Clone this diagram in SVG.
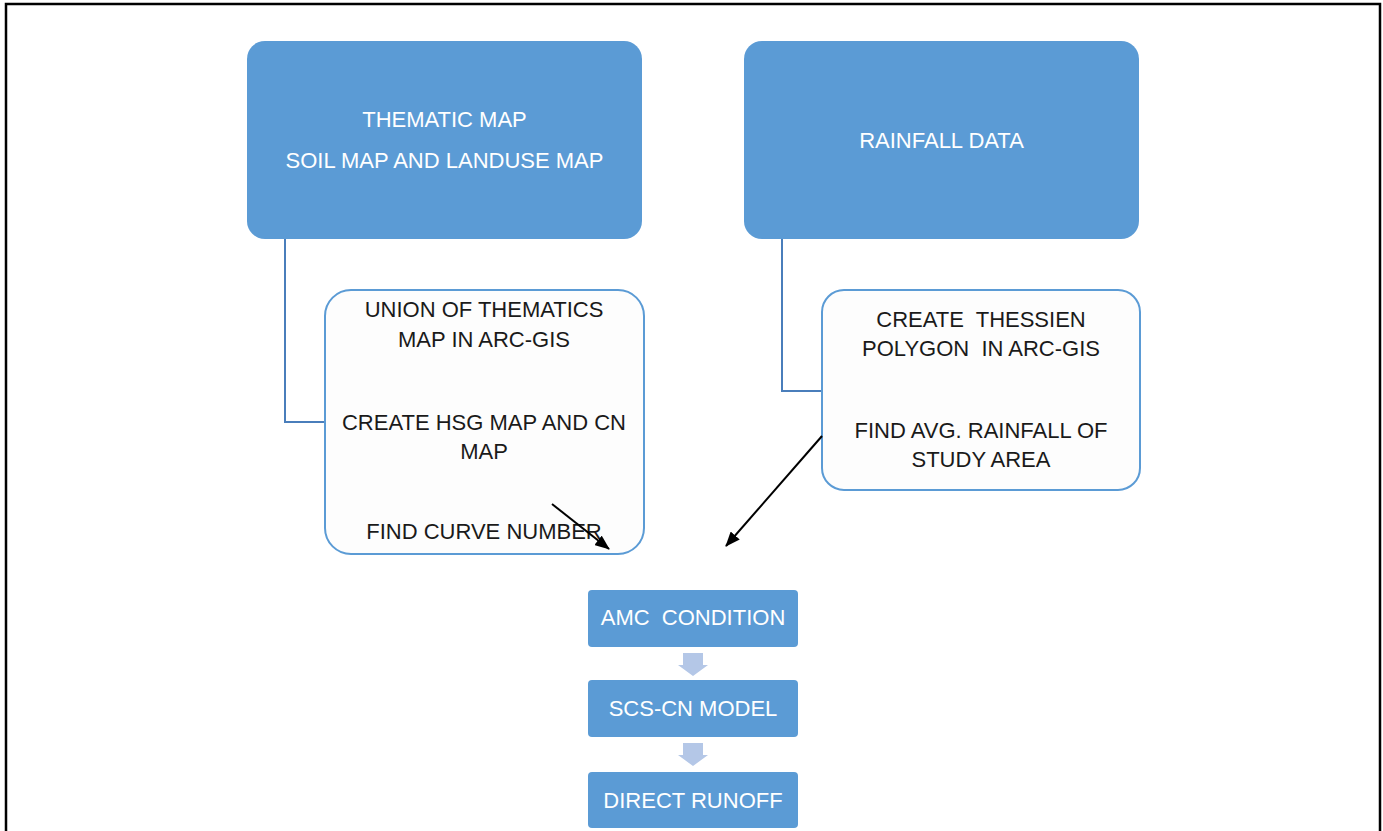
<svg xmlns="http://www.w3.org/2000/svg" width="1383" height="831" viewBox="0 0 1383 831">
<style>
.t{font-family:"Liberation Sans",Arial,sans-serif;font-size:22px;text-anchor:middle;white-space:pre}
.w{fill:#ffffff}
.d{fill:#1a1a1a}
.top{fill:#5b9bd5}
.sub{fill:#fdfdfd;stroke:#5b9bd5;stroke-width:2}
.conn{fill:none;stroke:#4a7ebb;stroke-width:2}
.arr{stroke:#000;stroke-width:2;fill:none}
.blk{fill:#b4c7e7}
</style>
<defs>
<marker id="ah" markerWidth="15" markerHeight="12" refX="14" refY="6" orient="auto" markerUnits="userSpaceOnUse" viewBox="0 0 15 12">
<path d="M0,0 L15,6 L0,12 z" fill="#000"/>
</marker>
</defs>
<rect x="6" y="4" width="1374" height="840" fill="none" stroke="#000" stroke-width="2.5"/>
<g id="thematic">
<rect class="top" x="247" y="41" width="395" height="198" rx="18"/>
<text class="t w" x="444.5" y="127">THEMATIC MAP</text>
<text class="t w" x="444.5" y="168">SOIL MAP AND LANDUSE MAP</text>
</g>
<g id="rainfall">
<rect class="top" x="744" y="41" width="395" height="198" rx="18"/>
<text class="t w" x="941.5" y="148">RAINFALL DATA</text>
</g>
<g id="union">
<rect class="sub" x="325" y="290" width="319" height="264" rx="26"/>
<text class="t d" x="484" y="317">UNION OF THEMATICS</text>
<text class="t d" x="484" y="347">MAP IN ARC-GIS</text>
<text class="t d" x="484" y="430">CREATE HSG MAP AND CN</text>
<text class="t d" x="484" y="459">MAP</text>
<text class="t d" x="484" y="539">FIND CURVE NUMBER</text>
</g>
<g id="thessien">
<rect class="sub" x="822" y="290" width="318" height="200" rx="22"/>
<text class="t d" x="981" y="327">CREATE  THESSIEN</text>
<text class="t d" x="981" y="356">POLYGON  IN ARC-GIS</text>
<text class="t d" x="981" y="438">FIND AVG. RAINFALL OF</text>
<text class="t d" x="981" y="467">STUDY AREA</text>
</g>
<g id="amc">
<rect class="top" x="588" y="590" width="210" height="57" rx="4"/>
<text class="t w" x="693" y="625">AMC  CONDITION</text>
</g>
<g id="scs">
<rect class="top" x="588" y="680" width="210" height="57" rx="4"/>
<text class="t w" x="693" y="716">SCS-CN MODEL</text>
</g>
<g id="runoff">
<rect class="top" x="588" y="772" width="210" height="56" rx="4"/>
<text class="t w" x="693" y="808">DIRECT RUNOFF</text>
</g>
<g id="connectors">
<path class="conn" d="M285,239 V422 H324"/>
<path class="conn" d="M782,239 V391 H821"/>
<line class="arr" x1="552" y1="504" x2="609" y2="549" marker-end="url(#ah)"/>
<line class="arr" x1="822" y1="436" x2="726" y2="546" marker-end="url(#ah)"/>
<path class="blk" d="M683,653 H703 V665 H708 L693,676 L678,665 H683 z"/>
<path class="blk" d="M683,743 H703 V755 H708 L693,766 L678,755 H683 z"/>
</g>
</svg>
